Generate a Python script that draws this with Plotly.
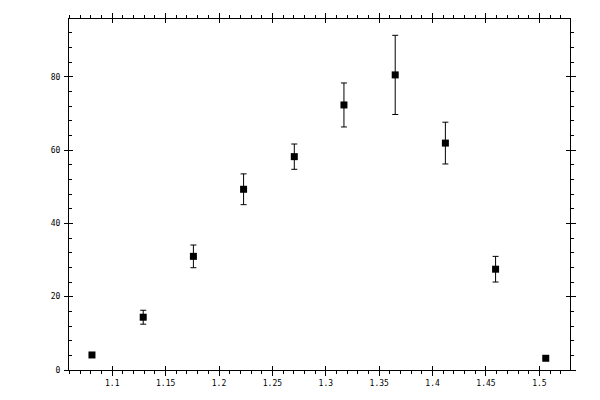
import plotly.graph_objects as go

x_vals = [1.081, 1.129, 1.176, 1.223, 1.2705, 1.317, 1.365, 1.412, 1.459, 1.506]
y_vals = [4.1, 14.4, 31.0, 49.3, 58.2, 72.3, 80.5, 61.9, 27.5, 3.2]
y_err = [0.0, 1.9, 3.1, 4.2, 3.45, 6.0, 10.8, 5.7, 3.5, 0.0]
x_ticks = [1.1, 1.15, 1.2, 1.25, 1.3, 1.35, 1.4, 1.45, 1.5]
x_labels = ["1.1", "1.15", "1.2", "1.25", "1.3", "1.35", "1.4", "1.45", "1.5"]
y_ticks = [0, 20, 40, 60, 80]
y_labels = ["0", "20", "40", "60", "80"]

XR = [1.0595, 1.5287]
YR = [0, 95.75]

fig = go.Figure()
fig.add_trace(go.Scatter(
    x=x_vals, y=y_vals, mode="markers",
    marker=dict(symbol="square", size=7, color="black"),
    error_y=dict(type="data", array=y_err, visible=True, color="black", thickness=1, width=3),
    showlegend=False, cliponaxis=False,
))
for ax in ["2", "3", "4"]:
    fig.add_trace(go.Scatter(x=[x_vals[0]], y=[y_vals[0]], xaxis="x" + ax, yaxis="y" + ax,
                             mode="markers", marker=dict(opacity=0), showlegend=False,
                             hoverinfo="skip"))

font = dict(family="DejaVu Sans Mono", size=8, color="black")
common = dict(showgrid=False, zeroline=False, showline=True, linecolor="black", linewidth=1,
              tickcolor="black", tickwidth=1, tickfont=font, automargin=False)

fig.update_layout(
    width=600, height=400,
    margin=dict(l=61, r=38, t=11, b=38),
    paper_bgcolor="white", plot_bgcolor="white",
    xaxis=dict(range=XR, tickvals=x_ticks, ticktext=x_labels, ticks="outside", ticklen=5,
               minor=dict(dtick=0.01, ticks="outside", ticklen=3, tickcolor="black"), **common),
    yaxis=dict(range=YR, tickvals=y_ticks, ticktext=y_labels, ticks="inside", ticklen=4,
               ticklabelstandoff=6,
               minor=dict(dtick=4, ticks="inside", ticklen=3, tickcolor="black"), **common),
    # top / right axes: outside minor + major
    xaxis2=dict(range=XR, overlaying="x", side="top", anchor="y2", tickvals=x_ticks,
                showticklabels=False, ticks="outside", ticklen=5,
                minor=dict(dtick=0.01, ticks="outside", ticklen=3, tickcolor="black"), **common),
    yaxis2=dict(range=YR, overlaying="y", side="right", anchor="x2", tickvals=y_ticks,
                showticklabels=False, ticks="outside", ticklen=5,
                minor=dict(dtick=4, ticks="outside", ticklen=3, tickcolor="black"), **common),
    # other halves of crossing major ticks
    xaxis3=dict(range=XR, overlaying="x", side="bottom", anchor="y3", tickvals=x_ticks,
                showticklabels=False, ticks="inside", ticklen=4, **common),
    yaxis3=dict(range=YR, overlaying="y", side="left", anchor="x3", tickvals=y_ticks,
                showticklabels=False, ticks="outside", ticklen=4, **common),
    xaxis4=dict(range=XR, overlaying="x", side="top", anchor="y4", tickvals=x_ticks,
                showticklabels=False, ticks="inside", ticklen=4, **common),
    yaxis4=dict(range=YR, overlaying="y", side="right", anchor="x4", tickvals=y_ticks,
                showticklabels=False, ticks="inside", ticklen=4, **common),
)
fig.write_html("out.html")
